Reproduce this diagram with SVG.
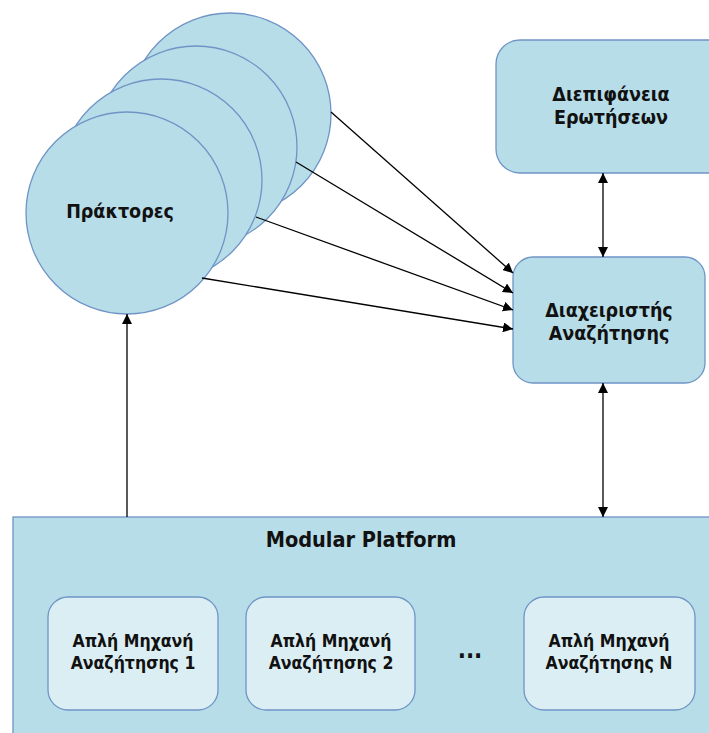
<svg xmlns="http://www.w3.org/2000/svg" width="709" height="733" viewBox="0 0 709 733">
  <defs>
    <marker id="arrow" viewBox="0 0 10 10" refX="10" refY="5" markerWidth="10" markerHeight="10" markerUnits="userSpaceOnUse" orient="auto-start-reverse">
      <path d="M0,0 L10,5 L0,10 z" fill="#000"/>
    </marker>
    <style>
      .shape { fill: #b7dde8; stroke: #6f94c6; stroke-width: 1.3; }
      .inner { fill: #dbeef3; stroke: #6f94c6; stroke-width: 1.3; }
      .lbl { font-family: "DejaVu Sans Condensed", "DejaVu Sans", sans-serif; font-weight: bold; fill: #111; text-anchor: middle; }
      .big { font-size: 19.5px; }
      .title { font-size: 21.5px; }
      .small { font-size: 17.5px; }
      .conn { stroke: #000; stroke-width: 1.3; fill: none; }
    </style>
  </defs>
  <rect width="709" height="733" fill="#fff"/>

  <!-- agent stack: back to front -->
  <g id="agents">
    <circle class="shape" cx="230" cy="114" r="101"/>
    <circle class="shape" cx="196" cy="147" r="101"/>
    <circle class="shape" cx="161" cy="180" r="101"/>
    <circle class="shape" cx="127" cy="213" r="101"/>
    <text class="lbl big" x="120" y="218">Πράκτορες</text>
  </g>

  <g id="query-interface">
    <rect class="shape" x="496" y="40" width="240" height="133" rx="24"/>
    <text class="lbl big" x="611" y="101">Διεπιφάνεια</text>
    <text class="lbl big" x="611" y="124">Ερωτήσεων</text>
  </g>

  <g id="search-manager">
    <rect class="shape" x="513" y="257" width="192" height="126" rx="20"/>
    <text class="lbl big" x="609" y="317">Διαχειριστής</text>
    <text class="lbl big" x="609" y="340">Αναζήτησης</text>
  </g>

  <g id="modular-platform">
    <rect class="shape" x="13" y="517" width="720" height="240"/>
    <text class="lbl title" x="361" y="547">Modular Platform</text>
  </g>

  <g id="engine-1">
    <rect class="inner" x="48" y="597" width="170" height="113" rx="20"/>
    <text class="lbl small" x="133" y="647">Απλή Μηχανή</text>
    <text class="lbl small" x="133" y="669">Αναζήτησης 1</text>
  </g>

  <g id="engine-2">
    <rect class="inner" x="246" y="597" width="169" height="113" rx="20"/>
    <text class="lbl small" x="331" y="647">Απλή Μηχανή</text>
    <text class="lbl small" x="331" y="669">Αναζήτησης 2</text>
  </g>

  <g id="ellipsis">
    <text class="lbl" x="470" y="658" font-size="24px">...</text>
  </g>

  <g id="engine-n">
    <rect class="inner" x="524" y="597" width="171" height="113" rx="20"/>
    <text class="lbl small" x="609" y="647">Απλή Μηχανή</text>
    <text class="lbl small" x="609" y="669">Αναζήτησης N</text>
  </g>

  <g id="connectors">
    <line class="conn" x1="331" y1="112" x2="513" y2="273" marker-end="url(#arrow)"/>
    <line class="conn" x1="296" y1="162" x2="513" y2="293" marker-end="url(#arrow)"/>
    <line class="conn" x1="256" y1="217" x2="513" y2="310" marker-end="url(#arrow)"/>
    <line class="conn" x1="202" y1="278" x2="513" y2="329" marker-end="url(#arrow)"/>
    <line class="conn" x1="603" y1="173" x2="603" y2="257" marker-start="url(#arrow)" marker-end="url(#arrow)"/>
    <line class="conn" x1="603" y1="383" x2="603" y2="517" marker-start="url(#arrow)" marker-end="url(#arrow)"/>
    <line class="conn" x1="127" y1="517" x2="127" y2="314" marker-end="url(#arrow)"/>
  </g>
</svg>
